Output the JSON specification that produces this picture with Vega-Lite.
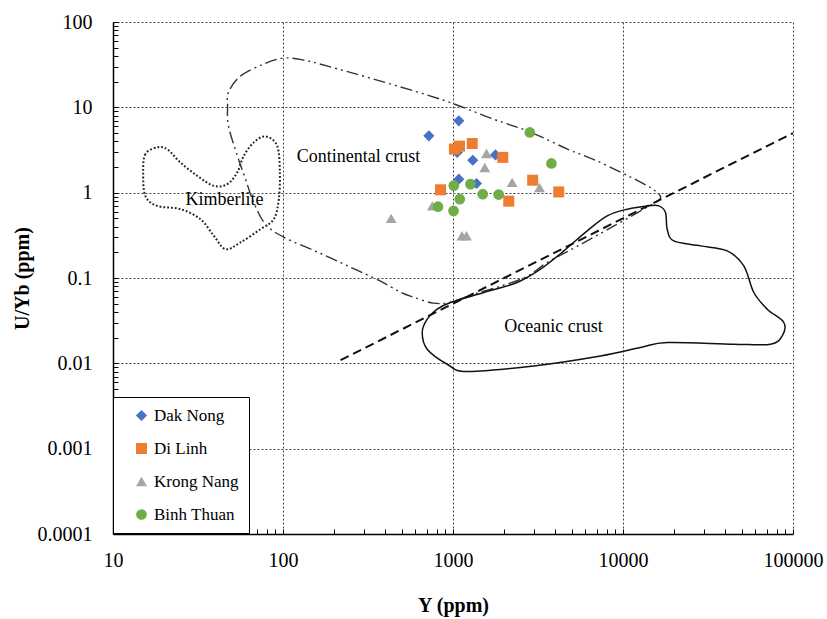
{
  "$schema": "https://vega.github.io/schema/vega-lite/v6.json",
  "width": 680,
  "height": 512,
  "autosize": "none",
  "padding": {"left": 113, "top": 22, "right": 34, "bottom": 85},
  "background": "white",
  "config": {
    "view": {"stroke": null},
    "font": "Liberation Serif",
    "legend": {
      "orient": "none",
      "legendX": 0,
      "legendY": 375,
      "strokeColor": "black",
      "fillColor": "white",
      "padding": 10,
      "labelFont": "Liberation Serif",
      "labelFontSize": 17,
      "labelColor": "black",
      "symbolSize": 60,
      "rowPadding": 15,
      "symbolOffset": 10,
      "labelOffset": 4,
      "symbolStrokeWidth": 0
    }
  },
  "datasets": {
    "pts": [
      {"Series": "Dak Nong", "Y": 721, "UYb": 4.63},
      {"Series": "Dak Nong", "Y": 1082, "UYb": 6.95},
      {"Series": "Dak Nong", "Y": 1058, "UYb": 2.96},
      {"Series": "Dak Nong", "Y": 1307, "UYb": 2.40},
      {"Series": "Dak Nong", "Y": 1778, "UYb": 2.77},
      {"Series": "Dak Nong", "Y": 1082, "UYb": 1.44},
      {"Series": "Dak Nong", "Y": 1375, "UYb": 1.28},
      {"Series": "Di Linh", "Y": 1020, "UYb": 3.24},
      {"Series": "Di Linh", "Y": 1092, "UYb": 3.51},
      {"Series": "Di Linh", "Y": 1297, "UYb": 3.77},
      {"Series": "Di Linh", "Y": 1963, "UYb": 2.59},
      {"Series": "Di Linh", "Y": 2943, "UYb": 1.40},
      {"Series": "Di Linh", "Y": 4188, "UYb": 1.02},
      {"Series": "Di Linh", "Y": 844, "UYb": 1.08},
      {"Series": "Di Linh", "Y": 2128, "UYb": 0.795},
      {"Series": "Krong Nang", "Y": 1574, "UYb": 2.88},
      {"Series": "Krong Nang", "Y": 1538, "UYb": 1.97},
      {"Series": "Krong Nang", "Y": 2228, "UYb": 1.32},
      {"Series": "Krong Nang", "Y": 3227, "UYb": 1.15},
      {"Series": "Krong Nang", "Y": 756, "UYb": 0.70},
      {"Series": "Krong Nang", "Y": 433, "UYb": 0.50},
      {"Series": "Krong Nang", "Y": 1130, "UYb": 0.312},
      {"Series": "Krong Nang", "Y": 1200, "UYb": 0.312},
      {"Series": "Binh Thuan", "Y": 2830, "UYb": 5.08},
      {"Series": "Binh Thuan", "Y": 3793, "UYb": 2.20},
      {"Series": "Binh Thuan", "Y": 1011, "UYb": 1.21},
      {"Series": "Binh Thuan", "Y": 1267, "UYb": 1.26},
      {"Series": "Binh Thuan", "Y": 1496, "UYb": 0.96},
      {"Series": "Binh Thuan", "Y": 1857, "UYb": 0.95},
      {"Series": "Binh Thuan", "Y": 1096, "UYb": 0.84},
      {"Series": "Binh Thuan", "Y": 816, "UYb": 0.685},
      {"Series": "Binh Thuan", "Y": 1007, "UYb": 0.612}
    ],
    "kimb": [
      {"i": 1, "x": 18.2, "y": 3.39}, {"i": 2, "x": 15.5, "y": 2.83}, {"i": 3, "x": 15.05, "y": 1.725},
      {"i": 4, "x": 15.5, "y": 0.917}, {"i": 5, "x": 18.2, "y": 0.700}, {"i": 6, "x": 24.9, "y": 0.641},
      {"i": 7, "x": 32.7, "y": 0.489}, {"i": 8, "x": 39.2, "y": 0.312}, {"i": 9, "x": 45.9, "y": 0.2176},
      {"i": 10, "x": 56.2, "y": 0.2609}, {"i": 11, "x": 73.7, "y": 0.373}, {"i": 12, "x": 88.3, "y": 0.489},
      {"i": 13, "x": 94.5, "y": 0.839}, {"i": 14, "x": 95.8, "y": 1.725}, {"i": 15, "x": 92.4, "y": 3.54},
      {"i": 16, "x": 78.9, "y": 4.56}, {"i": 17, "x": 67.3, "y": 3.88}, {"i": 18, "x": 58.8, "y": 2.70},
      {"i": 19, "x": 53.8, "y": 1.725}, {"i": 20, "x": 47.0, "y": 1.258}, {"i": 21, "x": 39.2, "y": 1.20},
      {"i": 22, "x": 31.3, "y": 1.574}, {"i": 23, "x": 24.9, "y": 2.26}, {"i": 24, "x": 20.8, "y": 3.24}
    ],
    "cont": [
      {"i": 1, "x": 47.8, "y": 15.1}, {"i": 2, "x": 56.2, "y": 23.2}, {"i": 3, "x": 76.8, "y": 32.1},
      {"i": 4, "x": 100.7, "y": 37.8}, {"i": 5, "x": 132, "y": 35.8}, {"i": 6, "x": 183, "y": 30.4},
      {"i": 7, "x": 375, "y": 20.3}, {"i": 8, "x": 880, "y": 12.1}, {"i": 9, "x": 1730, "y": 7.27},
      {"i": 10, "x": 2857, "y": 5.12}, {"i": 11, "x": 4716, "y": 3.24}, {"i": 12, "x": 7079, "y": 2.34},
      {"i": 13, "x": 12670, "y": 1.33}, {"i": 14, "x": 15540, "y": 1.04}, {"i": 15, "x": 16620, "y": 0.862},
      {"i": 16, "x": 14510, "y": 0.714}, {"i": 17, "x": 8795, "y": 0.405}, {"i": 18, "x": 5400, "y": 0.236},
      {"i": 19, "x": 3596, "y": 0.153}, {"i": 20, "x": 2743, "y": 0.105}, {"i": 21, "x": 1903, "y": 0.0801},
      {"i": 22, "x": 1320, "y": 0.0646}, {"i": 23, "x": 967, "y": 0.052}, {"i": 24, "x": 768, "y": 0.0507},
      {"i": 25, "x": 586, "y": 0.0596}, {"i": 26, "x": 491, "y": 0.0682}, {"i": 27, "x": 375, "y": 0.0917},
      {"i": 28, "x": 249, "y": 0.134}, {"i": 29, "x": 160, "y": 0.2007}, {"i": 30, "x": 101, "y": 0.301},
      {"i": 31, "x": 78.9, "y": 0.427}, {"i": 32, "x": 67.1, "y": 0.774}, {"i": 33, "x": 60.2, "y": 1.44},
      {"i": 34, "x": 54.0, "y": 2.68}, {"i": 35, "x": 47.8, "y": 6.02}, {"i": 36, "x": 47.2, "y": 10.3}
    ],
    "ocean": [
      {"i": 1, "x": 967, "y": 0.0516}, {"i": 2, "x": 1518, "y": 0.0676}, {"i": 3, "x": 2385, "y": 0.0886},
      {"i": 4, "x": 3271, "y": 0.1268}, {"i": 5, "x": 4485, "y": 0.2078}, {"i": 6, "x": 6157, "y": 0.3566},
      {"i": 7, "x": 8074, "y": 0.535}, {"i": 8, "x": 10590, "y": 0.641}, {"i": 9, "x": 13880, "y": 0.700},
      {"i": 10, "x": 16240, "y": 0.700}, {"i": 11, "x": 17780, "y": 0.586}, {"i": 12, "x": 18200, "y": 0.373},
      {"i": 13, "x": 19900, "y": 0.272}, {"i": 14, "x": 28570, "y": 0.238}, {"i": 15, "x": 41020, "y": 0.2078},
      {"i": 16, "x": 51350, "y": 0.1386}, {"i": 17, "x": 58820, "y": 0.0676}, {"i": 18, "x": 70520, "y": 0.0431},
      {"i": 19, "x": 88310, "y": 0.0301}, {"i": 20, "x": 86420, "y": 0.02096}, {"i": 21, "x": 73740, "y": 0.01675},
      {"i": 22, "x": 44850, "y": 0.01675}, {"i": 23, "x": 18200, "y": 0.01753}, {"i": 24, "x": 12670, "y": 0.01532},
      {"i": 25, "x": 7373, "y": 0.0122}, {"i": 26, "x": 2988, "y": 0.00932}, {"i": 27, "x": 1212, "y": 0.00801},
      {"i": 28, "x": 925, "y": 0.00976}, {"i": 29, "x": 705, "y": 0.01463}, {"i": 30, "x": 659, "y": 0.02297},
      {"i": 31, "x": 705, "y": 0.0329}, {"i": 32, "x": 807, "y": 0.0431}
    ],
    "dline": [
      {"i": 1, "x": 218, "y": 0.0109},
      {"i": 2, "x": 100000, "y": 5.0}
    ],
    "labels": [
      {"x": 278, "y": 2.61, "text": "Continental crust"},
      {"x": 45.3, "y": 0.817, "text": "Kimberlite"},
      {"x": 3900, "y": 0.0265, "text": "Oceanic crust"}
    ]
  },
  "layer": [
    {
      "data": {"name": "kimb"},
      "mark": {"type": "line", "interpolate": "cardinal-closed", "color": "#222", "strokeWidth": 2, "strokeDash": [1.8, 2]},
      "encoding": {
        "x": {"field": "x", "type": "quantitative", "scale": {"type": "log", "domain": [10, 100000], "nice": false}, "axis": null},
        "y": {"field": "y", "type": "quantitative", "scale": {"type": "log", "domain": [0.0001, 100], "nice": false}, "axis": null},
        "order": {"field": "i"}
      }
    },
    {
      "data": {"name": "cont"},
      "mark": {"type": "line", "interpolate": "cardinal-closed", "color": "#333", "strokeWidth": 1.4, "strokeDash": [12, 4, 2, 4, 2, 4]},
      "encoding": {
        "x": {"field": "x", "type": "quantitative", "scale": {"type": "log", "domain": [10, 100000], "nice": false}, "axis": null},
        "y": {"field": "y", "type": "quantitative", "scale": {"type": "log", "domain": [0.0001, 100], "nice": false}, "axis": null},
        "order": {"field": "i"}
      }
    },
    {
      "data": {"name": "ocean"},
      "mark": {"type": "line", "interpolate": "cardinal-closed", "color": "#111", "strokeWidth": 1.5},
      "encoding": {
        "x": {"field": "x", "type": "quantitative", "scale": {"type": "log", "domain": [10, 100000], "nice": false}, "axis": null},
        "y": {"field": "y", "type": "quantitative", "scale": {"type": "log", "domain": [0.0001, 100], "nice": false}, "axis": null},
        "order": {"field": "i"}
      }
    },
    {
      "data": {"name": "dline"},
      "mark": {"type": "line", "color": "#111", "strokeWidth": 2, "strokeDash": [9, 5]},
      "encoding": {
        "x": {"field": "x", "type": "quantitative", "scale": {"type": "log", "domain": [10, 100000], "nice": false},
          "axis": {"orient": "bottom", "labels": false, "domain": false, "grid": false, "title": null, "ticks": true, "tickSize": -5, "tickColor": "black", "tickWidth": 1,
            "values": [10,20,30,40,50,60,70,80,90,100,200,300,400,500,600,700,800,900,1000,2000,3000,4000,5000,6000,7000,8000,9000,10000,20000,30000,40000,50000,60000,70000,80000,90000,100000]}},
        "y": {"field": "y", "type": "quantitative", "scale": {"type": "log", "domain": [0.0001, 100], "nice": false},
          "axis": {"orient": "left", "labels": false, "domain": false, "grid": false, "title": null, "ticks": true, "tickSize": -5, "tickColor": "black", "tickWidth": 1,
            "values": [0.0001,0.0002,0.0003,0.0004,0.0005,0.0006,0.0007,0.0008,0.0009,0.001,0.002,0.003,0.004,0.005,0.006,0.007,0.008,0.009,0.01,0.02,0.03,0.04,0.05,0.06,0.07,0.08,0.09,0.1,0.2,0.3,0.4,0.5,0.6,0.7,0.8,0.9,1,2,3,4,5,6,7,8,9,10,20,30,40,50,60,70,80,90,100]}},
        "order": {"field": "i"}
      }
    },
    {
      "data": {"name": "labels"},
      "mark": {"type": "text", "font": "Liberation Serif", "fontSize": 18, "color": "black", "align": "center", "baseline": "middle"},
      "encoding": {
        "x": {"field": "x", "type": "quantitative", "scale": {"type": "log", "domain": [10, 100000], "nice": false}, "axis": null},
        "y": {"field": "y", "type": "quantitative", "scale": {"type": "log", "domain": [0.0001, 100], "nice": false}, "axis": null},
        "text": {"field": "text"}
      }
    },
    {
      "data": {"name": "pts"},
      "mark": {"type": "point", "filled": true, "opacity": 1},
      "encoding": {
        "x": {"field": "Y", "type": "quantitative", "scale": {"type": "log", "domain": [10, 100000], "nice": false},
          "axis": {"orient": "bottom", "values": [10, 100, 1000, 10000, 100000], "format": "~g", "ticks": false, "domain": true, "domainColor": "black", "domainWidth": 1.5,
            "grid": true, "gridColor": "#444", "gridDash": [2, 2], "gridWidth": 1, "labelFont": "Liberation Serif", "labelFontSize": 20, "labelColor": "black", "labelPadding": 16, "labelFlush": false,
            "title": "Y (ppm)", "titleFont": "Liberation Serif", "titleFontSize": 20, "titleFontWeight": "bold", "titleColor": "black", "titleBaseline": "middle", "titleY": 71}},
        "y": {"field": "UYb", "type": "quantitative", "scale": {"type": "log", "domain": [0.0001, 100], "nice": false},
          "axis": {"orient": "left", "values": [0.0001, 0.001, 0.01, 0.1, 1, 10, 100], "format": "~g", "ticks": false, "domain": true, "domainColor": "black", "domainWidth": 1.5,
            "grid": true, "gridColor": "#444", "gridDash": [2, 2], "gridWidth": 1, "labelFont": "Liberation Serif", "labelFontSize": 20, "labelColor": "black", "labelPadding": 21, "labelFlush": false,
            "title": "U/Yb (ppm)", "titleFont": "Liberation Serif", "titleFontSize": 20, "titleFontWeight": "bold", "titleColor": "black", "titleBaseline": "middle", "titleX": -91, "titleY": 256}},
        "color": {"field": "Series", "type": "nominal", "scale": {"domain": ["Dak Nong", "Di Linh", "Krong Nang", "Binh Thuan"], "range": ["#4472C4", "#ED7D31", "#A5A5A5", "#70AD47"]}, "legend": {"title": null, "labelFont": "Liberation Serif"}},
        "shape": {"field": "Series", "type": "nominal", "scale": {"domain": ["Dak Nong", "Di Linh", "Krong Nang", "Binh Thuan"], "range": ["diamond", "square", "triangle-up", "circle"]}, "legend": {"title": null, "labelFont": "Liberation Serif"}},
        "size": {"field": "Series", "type": "nominal", "scale": {"domain": ["Dak Nong", "Di Linh", "Krong Nang", "Binh Thuan"], "range": [125, 115, 170, 125]}, "legend": null}
      }
    }
  ],
  "resolve": {"axis": {"x": "independent", "y": "independent"}}
}
